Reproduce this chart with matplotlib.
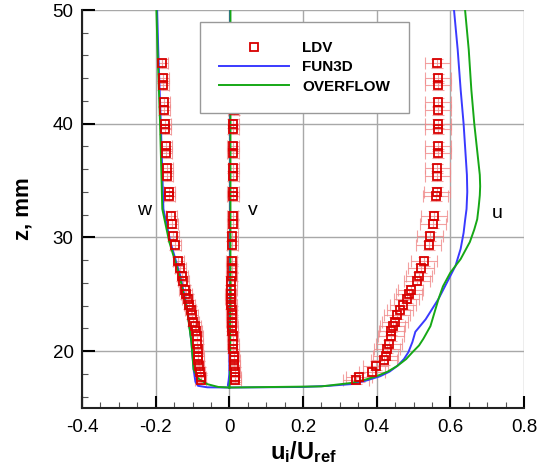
import numpy as np
import matplotlib
matplotlib.use("Agg")
import matplotlib.pyplot as plt
from matplotlib.ticker import MultipleLocator

plt.rcParams['font.family'] = ['Liberation Sans', 'DejaVu Sans']
plt.rcParams['mathtext.fontset'] = 'custom'
plt.rcParams['mathtext.rm'] = 'Liberation Sans'
plt.rcParams['mathtext.bf'] = 'Liberation Sans:bold'
plt.rcParams['mathtext.it'] = 'Liberation Sans:italic'

## LDV measurements (same z stations for u, v, w)
z_ldv = [45.3, 44.0, 43.4, 41.9, 41.2, 40.0, 39.5, 38.0, 37.4, 36.1, 35.4, 34.0, 33.6,
         31.9, 31.2, 30.1, 29.3, 27.9, 27.3, 26.6, 26.2, 25.4, 25.0, 24.6, 24.1, 23.6,
         23.2, 22.6, 22.2, 21.8, 21.3, 20.6, 20.2, 19.6, 19.2, 18.7, 18.2, 17.7, 17.5]
u_ldv = [0.565, 0.566, 0.566, 0.566, 0.566, 0.566, 0.566, 0.566, 0.566, 0.565, 0.565, 0.563, 0.560,
         0.555, 0.553, 0.544, 0.541, 0.528, 0.521, 0.514, 0.510, 0.492, 0.487, 0.481, 0.472, 0.463,
         0.456, 0.449, 0.443, 0.440, 0.438, 0.433, 0.429, 0.424, 0.420, 0.397, 0.388, 0.351, 0.343]
v_ldv = [0.010, 0.011, 0.011, 0.012, 0.012, 0.011, 0.011, 0.010, 0.010, 0.011, 0.011, 0.010, 0.010,
         0.009, 0.009, 0.008, 0.008, 0.007, 0.007, 0.006, 0.005, 0.005, 0.004, 0.004, 0.005, 0.006,
         0.006, 0.007, 0.008, 0.008, 0.009, 0.010, 0.011, 0.012, 0.013, 0.014, 0.015, 0.016, 0.016]
w_ldv = [-0.182, -0.180, -0.180, -0.177, -0.177, -0.174, -0.174, -0.171, -0.171, -0.168, -0.168, -0.163, -0.163,
         -0.158, -0.155, -0.152, -0.147, -0.139, -0.133, -0.128, -0.125, -0.121, -0.117, -0.113, -0.109, -0.105,
         -0.101, -0.098, -0.093, -0.090, -0.087, -0.087, -0.086, -0.085, -0.084, -0.083, -0.080, -0.077, -0.077]
u_err = 0.035
vw_err = 0.015
z_err = 0.4

## FUN3D profiles
z_fun3d_u = [16.8, 16.85, 16.95, 17.1, 17.4, 17.8, 18.2, 18.7, 19.3, 19.9, 20.8, 21.7, 22.8, 24.6,
             26.3, 27.5, 29.0, 30.4, 31.5, 32.5, 34.0, 35.5, 37.5, 40.0, 43.0, 46.5, 50.0]
u_fun3d = [0.0, 0.20, 0.27, 0.33, 0.37, 0.41, 0.435, 0.456, 0.474, 0.486, 0.497, 0.505, 0.533, 0.568,
           0.595, 0.614, 0.628, 0.636, 0.640, 0.644, 0.646, 0.645, 0.641, 0.636, 0.628, 0.620, 0.610]
z_fun3d_v = [16.8, 17.0, 17.4, 18.0, 22.0, 30.0, 40.0, 50.0]
v_fun3d = [0.0, -0.004, -0.002, 0.0, 0.001, 0.002, 0.002, 0.002]
z_fun3d_w = [16.8, 16.82, 16.95, 17.3, 18.4, 20.8, 23.7, 26.6, 29.6, 32.5, 40.0, 46.5, 50.0]
w_fun3d = [0.0, -0.06, -0.085, -0.092, -0.097, -0.103, -0.114, -0.133, -0.160, -0.179, -0.186, -0.193, -0.196]

## OVERFLOW profiles
z_over_u = [16.8, 16.9, 17.2, 17.5, 17.8, 18.2, 18.7, 19.3, 19.9, 20.5, 21.1, 22.2, 23.4, 24.6, 25.7,
            26.9, 28.1, 29.6, 30.7, 31.6, 32.7, 33.7, 34.5, 35.5, 37.0, 40.0, 43.0, 46.5, 50.0]
u_over = [0.0, 0.25, 0.33, 0.37, 0.40, 0.43, 0.456, 0.480, 0.497, 0.515, 0.527, 0.546, 0.557, 0.568, 0.580,
          0.600, 0.628, 0.653, 0.665, 0.673, 0.677, 0.680, 0.681, 0.680, 0.675, 0.665, 0.657, 0.650, 0.640]
z_over_v = [16.8, 17.5, 25.0, 40.0, 50.0]
v_over = [0.0, 0.002, 0.003, 0.003, 0.003]
z_over_w = [16.8, 16.85, 17.1, 17.6, 18.4, 20.8, 23.7, 26.6, 29.6, 32.5, 40.0, 46.5, 50.0]
w_over = [0.0, -0.03, -0.06, -0.085, -0.097, -0.103, -0.115, -0.135, -0.163, -0.182, -0.188, -0.195, -0.198]

x_ticks = [-0.4, -0.2, 0, 0.2, 0.4, 0.6, 0.8]
x_tick_labels = ['-0.4', '-0.2', '0', '0.2', '0.4', '0.6', '0.8']
y_ticks = [20, 30, 40, 50]

blue_ = '#3a3aff'
green_ = '#16a816'
red_ = '#d80000'
pink_ = '#f08a8a'

fig = plt.figure(figsize=(5.45, 4.69), dpi=100)
ax = fig.add_axes([82/545, 61/469, 442/545, 398/469])

# error bars first, then model lines, then markers
for vals_, xe_ in [(u_ldv, u_err), (v_ldv, vw_err), (w_ldv, vw_err)]:
    ax.errorbar(vals_, z_ldv, xerr=xe_, yerr=z_err, fmt='none', ecolor=pink_,
                elinewidth=0.8, capsize=4, capthick=0.8, alpha=0.8, zorder=2)

for zz_, uu_ in [(z_fun3d_u, u_fun3d), (z_fun3d_v, v_fun3d), (z_fun3d_w, w_fun3d)]:
    h_fun3d, = ax.plot(uu_, zz_, color=blue_, lw=1.4, zorder=3)
for zz_, uu_ in [(z_over_u, u_over), (z_over_v, v_over), (z_over_w, w_over)]:
    h_over, = ax.plot(uu_, zz_, color=green_, lw=1.4, zorder=3)

for vals_ in [u_ldv, v_ldv, w_ldv]:
    h_ldv, = ax.plot(vals_, z_ldv, 's', ms=5.5, mfc='none', mec=red_, mew=1.3, zorder=4)

ax.text(-0.231, 32.0, 'w', fontsize=14, ha='center', va='baseline')
ax.text(0.065, 32.0, 'v', fontsize=14, ha='center', va='baseline')
ax.text(0.726, 31.7, 'u', fontsize=14, ha='center', va='baseline')

ax.set_xlim(-0.4, 0.8)
ax.set_ylim(15, 50)
ax.set_xticks(x_ticks)
ax.set_xticklabels(x_tick_labels)
ax.set_yticks(y_ticks)
ax.xaxis.set_minor_locator(MultipleLocator(0.05))
ax.yaxis.set_minor_locator(MultipleLocator(2))
ax.tick_params(which='major', direction='in', length=9, width=1.5, labelsize=13.5)
ax.tick_params(axis='x', which='major', pad=8)
ax.tick_params(axis='y', which='major', pad=6)
ax.tick_params(which='minor', direction='in', length=4.5, width=0.8, color='#555555')
ax.grid(True, which='major', color='#a8a8a8', lw=1.0, zorder=0)
ax.set_axisbelow(True)
for s_ in ['top', 'right']:
    ax.spines[s_].set_visible(False)
for s_ in ['left', 'bottom']:
    ax.spines[s_].set_linewidth(1.5)
    ax.spines[s_].set_color('#222222')

ax.set_xlabel(r'$\mathbf{u_i/U_{ref}}$', fontsize=17, labelpad=2)
ax.set_ylabel('z, mm', fontsize=16, fontweight='bold', labelpad=14)

leg = ax.legend([h_ldv, h_fun3d, h_over], ['LDV', 'FUN3D', 'OVERFLOW'],
                loc='upper left', bbox_to_anchor=(0.267, 0.97), borderaxespad=0,
                prop={'weight': 'bold', 'size': 11}, numpoints=1, handlelength=4.6,
                handletextpad=0.85, labelspacing=0.35, borderpad=1.25,
                fancybox=False, framealpha=1, edgecolor='#999999')
leg.get_frame().set_linewidth(1.0)
leg.set_zorder(5)

fig.savefig('out.png', dpi=100)
